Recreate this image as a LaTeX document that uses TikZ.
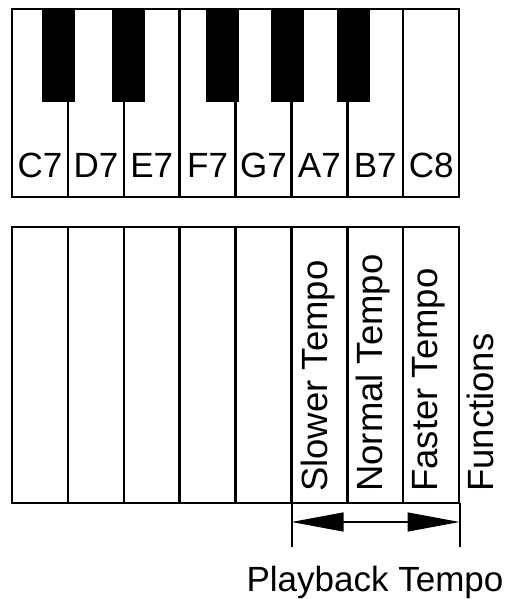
\documentclass[tikz,border=0pt]{standalone}
\usepackage{fontspec}
\setmainfont{Liberation Sans}
\usetikzlibrary{arrows.meta}

\begin{document}
\begin{tikzpicture}[x=1pt,y=-1pt,line width=2.5pt,
  keylabel/.style={font=\fontsize{35}{42}\selectfont,inner sep=0pt},
  funclabel/.style={keylabel,font=\fontsize{36.5}{44}\selectfont,rotate=90,anchor=base west}]
\useasboundingbox (0,0) rectangle (511,599);
% Keyboard
\begin{scope}
\foreach \i/\name in {0/C7,1/D7,2/E7,3/F7,4/G7,5/A7,6/B7,7/C8} {
  \draw (12+55.875*\i,9) rectangle ++(55.875,188);
  \node[keylabel,anchor=base] (key\name) at (40+55.875*\i,177) {\name};
}
\foreach \x in {42,112,206,271,337}
  \fill (\x,9) rectangle ++(32.5,93);
\end{scope}

% Function keys
\begin{scope}
\foreach \i in {0,...,7}
  \draw (12+55.875*\i,227) rectangle ++(55.875,276);
\node[funclabel] (slower) at (327,493) {Slower Tempo};
\node[funclabel] (normal) at (382,493) {Normal Tempo};
\node[funclabel] (faster) at (437,493) {Faster Tempo};
\node[funclabel] (functions) at (493,493) {Functions};
\end{scope}

% Tempo range
\coordinate (dimL) at (291.5,522);
\coordinate (dimR) at (459.5,522);
\draw[line width=2pt] (291.5,503) -- (291.5,547);
\draw[line width=2pt] (459.5,503) -- (459.5,547);
\draw[line width=1.3pt,{Triangle[length=52pt,width=19pt]}-{Triangle[length=52pt,width=19pt]}] (dimL) -- (dimR);
\node[keylabel,anchor=base] (playback) at (375,591) {Playback Tempo};
\end{tikzpicture}
\end{document}
